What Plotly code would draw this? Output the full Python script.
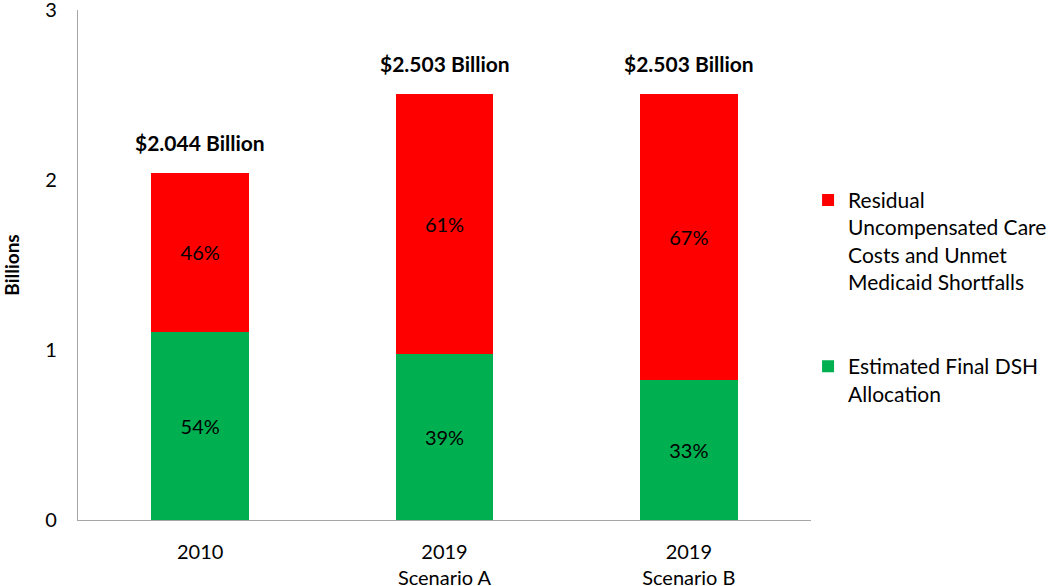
import plotly.graph_objects as go

categories = ["2010", "2019<br>Scenario A", "2019<br>Scenario B"]
totals = [2.044, 2.503, 2.503]
dsh_pct = [54, 39, 33]
residual_pct = [46, 61, 67]
total_labels = ["$2.044 Billion", "$2.503 Billion", "$2.503 Billion"]
y_ticks = [0, 1, 2, 3]

dsh_vals = [t * p / 100 for t, p in zip(totals, dsh_pct)]
res_vals = [t * p / 100 for t, p in zip(totals, residual_pct)]

FONT = "Lato, 'Open Sans', sans-serif"

fig = go.Figure()
fig.add_trace(go.Bar(
    x=categories, y=dsh_vals, name="Estimated Final DSH<br>Allocation",
    marker=dict(color="#00B050", line=dict(width=0)), width=0.4,
    text=[f"{p}%" for p in dsh_pct], textposition="inside", insidetextanchor="middle",
    textfont=dict(color="black", size=20, family=FONT), legendgroup="g1", legendrank=2,
    textangle=0,
))
fig.add_trace(go.Bar(
    x=categories, y=res_vals,
    name="Residual<br>Uncompensated Care<br>Costs and Unmet<br>Medicaid Shortfalls",
    marker=dict(color="#FF0000", line=dict(width=0)), width=0.4,
    text=[f"{p}%" for p in residual_pct], textposition="inside", insidetextanchor="middle",
    textfont=dict(color="black", size=20, family=FONT), legendgroup="g2", legendrank=1,
    textangle=0,
))

for i, (t, lab) in enumerate(zip(totals, total_labels)):
    fig.add_annotation(x=i, y=t, text=f"<b>{lab}</b>", showarrow=False,
                       yanchor="bottom", yshift=16,
                       font=dict(size=21, color="black", family=FONT))

fig.update_layout(
    barmode="stack",
    width=1050, height=586,
    margin=dict(l=78, r=239, t=10, b=66, autoexpand=False),
    plot_bgcolor="white", paper_bgcolor="white",
    font=dict(family=FONT, size=20, color="black"),
    showlegend=True,
    legend=dict(x=0.996, y=0.667, xanchor="left", yanchor="top",
                traceorder="grouped", tracegroupgap=54, valign="top",
                font=dict(size=21, family=FONT, color="black"),
                itemwidth=30, bgcolor="rgba(0,0,0,0)"),
    uniformtext=dict(minsize=10, mode="show"),
)
fig.update_xaxes(showline=True, linecolor="#A6A6A6", linewidth=1.2,
                 ticks="", showgrid=False, automargin=False, ticklabelstandoff=14,
                 ticklabeloverflow="allow",
                 tickfont=dict(size=20, family=FONT))
fig.update_yaxes(range=[0, 3], tickvals=y_ticks, showline=True, linecolor="#A6A6A6",
                 linewidth=1.2, ticks="outside", ticklen=16, tickcolor="rgba(0,0,0,0)",
                 showgrid=False, zeroline=False, automargin=False,
                 ticklabeloverflow="allow",
                 title=dict(text="<b>Billions</b>", font=dict(size=19, family=FONT), standoff=24),
                 tickfont=dict(size=20, family=FONT))

fig.write_html("out.html", config={"displayModeBar": False},
               post_script="document.body.style.margin='0';")
